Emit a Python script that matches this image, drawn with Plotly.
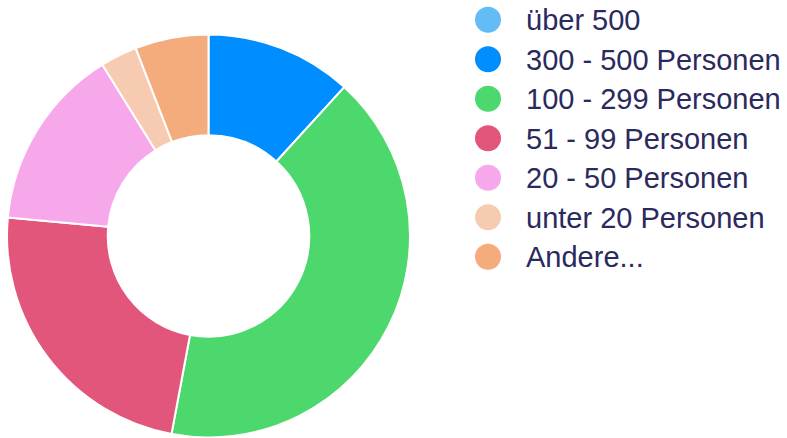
import plotly.graph_objects as go

# Data
categories = ["über 500", "300 - 500 Personen", "100 - 299 Personen", "51 - 99 Personen",
              "20 - 50 Personen", "unter 20 Personen", "Andere..."]
values = [0, 4, 14, 8, 5, 1, 2]
colors = ["#64BCF5", "#008DFF", "#4CD86C", "#E3567B", "#F7A8EB", "#F7CBB1", "#F5AC7D"]

W, H = 787, 438
TEXT_COLOR = "#2A2A5E"
FONT = "Liberation Sans, Arial, sans-serif"

# Pie geometry (pixels)
cx, cy, r = 208.5, 236, 201.5

fig = go.Figure()
fig.add_trace(go.Pie(
    labels=categories, values=values, sort=False, direction="clockwise", rotation=0,
    hole=0.5, textinfo="none", showlegend=False,
    marker=dict(colors=colors, line=dict(color="white", width=2)),
    domain=dict(x=[max(0, (cx - r) / W), min(1, (cx + r) / W)],
                y=[max(0, (H - cy - r) / H), min(1, (H - cy + r) / H)]),
))

# Custom legend (circles + labels) on a hidden pixel-scaled axis
row0, step = 19.8, 39.5
marker_x, text_x = 488, 526
text_dy = 3
ys = [row0 + step * i for i in range(len(categories))]
fig.add_trace(go.Scatter(
    x=[marker_x] * len(categories), y=ys, mode="markers",
    marker=dict(size=26, color=colors, line=dict(width=0)),
    hoverinfo="skip", showlegend=False, cliponaxis=False,
))
fig.add_trace(go.Scatter(
    x=[text_x] * len(categories), y=[v + text_dy for v in ys], mode="text", text=categories,
    textposition="middle right",
    textfont=dict(size=29, color=TEXT_COLOR, family=FONT),
    hoverinfo="skip", showlegend=False, cliponaxis=False,
))

fig.update_layout(
    width=W, height=H, margin=dict(l=0, r=0, t=0, b=0),
    paper_bgcolor="white", plot_bgcolor="rgba(0,0,0,0)",
    font=dict(family=FONT, color=TEXT_COLOR),
    xaxis=dict(range=[0, W], domain=[0, 1], visible=False, fixedrange=True),
    yaxis=dict(range=[H, 0], domain=[0, 1], visible=False, fixedrange=True),
    showlegend=False,
)

# remove the default page margin so the figure fills the window exactly
fig.write_html("out.html", config={"displayModeBar": False},
               post_script="document.body.style.margin='0';")
